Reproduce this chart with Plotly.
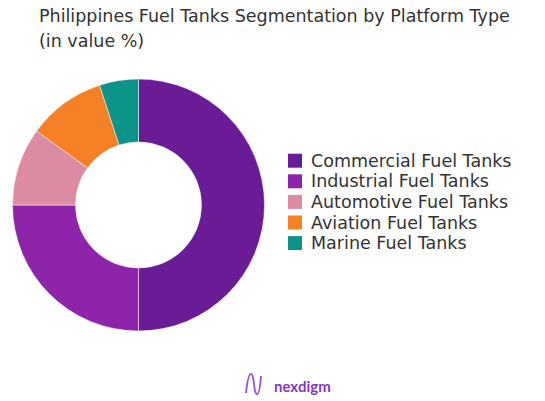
import plotly.graph_objects as go

categories = ["Commercial Fuel Tanks", "Industrial Fuel Tanks", "Automotive Fuel Tanks",
              "Aviation Fuel Tanks", "Marine Fuel Tanks"]
values = [50, 25, 10, 10, 5]
colors = ["#6a1b96", "#8e24aa", "#dc8ba3", "#f58025", "#0d9488"]
title_lines = ["Philippines Fuel Tanks Segmentation by Platform Type", "(in value %)"]

W, H = 545, 401
FONT = "DejaVu Sans, sans-serif"

fig = go.Figure()
fig.add_trace(go.Pie(
    labels=categories, values=values, hole=0.5, sort=False,
    direction="clockwise", rotation=0,
    marker=dict(colors=colors, line=dict(color="white", width=0.5)),
    textinfo="none", hoverinfo="label+percent",
    domain=dict(x=[12/W, 265/W], y=[1-331/H, 1-79/H]),
))

fig.update_layout(
    width=W, height=H,
    margin=dict(l=0, r=0, t=0, b=0),
    paper_bgcolor="white", plot_bgcolor="white",
    font=dict(family=FONT, color="#333333"),
    showlegend=False,
)

for i, line in enumerate(title_lines):
    fig.add_annotation(text=line, x=37/W, y=1-(16+25*i)/H, xref="paper", yref="paper",
                       xanchor="left", yanchor="middle", showarrow=False,
                       font=dict(size=17.5, color="#333333", family=FONT))

# legend drawn manually to match the reference spacing
for i, (cat, col) in enumerate(zip(categories, colors)):
    yc = 160.7 + 20.6 * i
    fig.add_shape(type="rect", xref="paper", yref="paper",
                  x0=288/W, x1=302/W, y0=1-(yc-7)/H, y1=1-(yc+7)/H,
                  fillcolor=col, line=dict(width=0))
    fig.add_annotation(text=cat, x=309/W, y=1-yc/H, xref="paper", yref="paper",
                       xanchor="left", yanchor="middle", showarrow=False,
                       font=dict(size=17.5, color="#333333", family=FONT))

fig.add_annotation(text="<b>nexdigm</b>", x=272/W, y=1-386/H, xref="paper", yref="paper",
                   xanchor="left", yanchor="middle", showarrow=False,
                   font=dict(size=15, color="#8a34c8", family="Lato, sans-serif"))
fig.add_shape(type="path", xref="paper", yref="paper",
              path=f"M {246/W} {1-393/H} C {249/W} {1-366/H}, {253/W} {1-372/H}, {254/W} {1-384/H} "
                   f"C {255/W} {1-396/H}, {259/W} {1-402/H}, {261/W} {1-376/H}",
              line=dict(color="#9b4fe0", width=1.8))

fig.write_html("out.html", config={"displayModeBar": False},
               post_script="document.body.style.margin='0';")
